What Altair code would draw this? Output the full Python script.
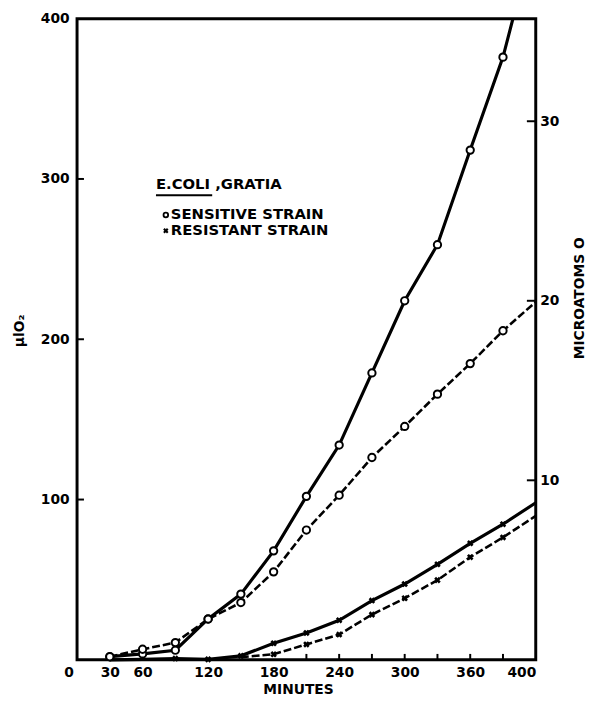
import altair as alt
import pandas as pd

# ---------------- data ----------------
minutes_sens = [30, 60, 90, 120, 150, 180, 210, 240, 270, 300, 330, 360, 390, 420]
sens_ul_o2 = [2, 3.7, 6, 25.5, 41, 68, 102, 134, 179, 224, 259, 318, 376, 455]
sens_microatoms = [0.17, 0.59, 0.96, 2.27, 3.19, 4.9, 7.23, 9.17, 11.27, 13.0, 14.8, 16.5, 18.33, 19.94]

minutes_res = [30, 60, 90, 120, 150, 180, 210, 240, 270, 300, 330, 360, 390, 420]
res_ul_o2 = [0, 0.3, 0.8, 0.3, 2.5, 10.3, 16.8, 24.7, 37, 47.3, 59.6, 72.7, 84.6, 98]

minutes_res_dash = [150, 180, 210, 240, 270, 300, 330, 360, 390, 420]
res_microatoms = [0.15, 0.31, 0.86, 1.41, 2.52, 3.43, 4.44, 5.72, 6.82, 8.02]

xtick_values = [30, 60, 120, 180, 240, 300, 360, 420]
xtick_labels = ["30", "60", "120", "180", "240", "300", "360", "400"]
minor_x_ticks = [210, 240, 270, 300, 330, 360, 390]
left_ticks = [100, 200, 300, 400]
right_ticks = [10, 20, 30]

legend_title = "E.COLI ,GRATIA"
legend_sens = "SENSITIVE STRAIN"
legend_res = "RESISTANT STRAIN"

# ---------------- layout / style ----------------
FONT = "DejaVu Sans"
W, H = 465, 650
XMAX = 420
YMAX = 400
MMAX = 400 / 11.2
MARK_MIN_S, MARK_MAX = 30, 390
MARK_MIN_R, MARK_MIN_RD = 90, 180

df_sens = pd.DataFrame({"minutes": minutes_sens, "ul": sens_ul_o2, "m": sens_microatoms})
df_res = pd.DataFrame({"minutes": minutes_res, "ul": res_ul_o2})
df_res_d = pd.DataFrame({"minutes": minutes_res_dash, "m": res_microatoms})

label_expr = ""
for v, l in zip(xtick_values, xtick_labels):
    label_expr += f"datum.value == {v} ? '{l}' : "
label_expr += "datum.label"

x_axis = alt.Axis(
    values=xtick_values, labelExpr=label_expr, title="MINUTES",
    labelPadding=6, titleX=224, titleY=30, titleAlign="center",
    titleBaseline="middle",
)
xenc = alt.X("minutes:Q", scale=alt.Scale(domain=[0, XMAX], nice=False, zero=False), axis=x_axis)

ul_scale = alt.Scale(domain=[0, YMAX], nice=False)
m_scale = alt.Scale(domain=[0, MMAX], nice=False)

left_axis = alt.Axis(
    values=left_ticks, title="μlO₂", orient="left", labelPadding=8,
    titleX=-58, titleY=316, titleAngle=270, titleAlign="center", titleBaseline="middle",
)
right_axis = alt.Axis(
    values=right_ticks, title="MICROATOMS O", orient="right", labelPadding=4,
    titleX=44, titleY=283, titleAngle=270, titleAlign="center", titleBaseline="middle",
)

sens_line = alt.Chart(df_sens).mark_line(color="black", strokeWidth=3.2, clip=True).encode(
    x=xenc, y=alt.Y("ul:Q", scale=ul_scale, axis=left_axis)
)
sens_dash = alt.Chart(df_sens).mark_line(color="black", strokeWidth=2.6, strokeDash=[8, 3]).encode(
    x=xenc, y=alt.Y("m:Q", scale=m_scale, axis=right_axis)
)
res_line = alt.Chart(df_res).mark_line(color="black", strokeWidth=3.2).encode(
    x=xenc, y=alt.Y("ul:Q", scale=ul_scale, axis=None)
)
res_dash = alt.Chart(df_res_d).mark_line(color="black", strokeWidth=2.6, strokeDash=[8, 3]).encode(
    x=xenc, y=alt.Y("m:Q", scale=m_scale, axis=None)
)

circ = dict(shape="circle", size=55, filled=True, fill="white", stroke="black", strokeWidth=2, opacity=1)
sens_pts = alt.Chart(df_sens).transform_filter(
    f"datum.minutes <= {MARK_MAX}"
).mark_point(**circ).encode(x=xenc, y=alt.Y("ul:Q", scale=ul_scale, axis=None))
sens_pts_d = alt.Chart(df_sens).transform_filter(
    f"datum.minutes <= {MARK_MAX}"
).mark_point(**circ).encode(x=xenc, y=alt.Y("m:Q", scale=m_scale, axis=None))

xm = dict(shape="cross", angle=45, size=45, filled=True, color="black", opacity=1)
res_pts = alt.Chart(df_res).transform_filter(
    f"datum.minutes >= {MARK_MIN_R} && datum.minutes <= {MARK_MAX}"
).mark_point(**xm).encode(x=xenc, y=alt.Y("ul:Q", scale=ul_scale, axis=None))
res_pts_d = alt.Chart(df_res_d).transform_filter(
    f"datum.minutes >= {MARK_MIN_RD} && datum.minutes <= {MARK_MAX}"
).mark_point(**xm).encode(x=xenc, y=alt.Y("m:Q", scale=m_scale, axis=None))

# inward tick marks
bt = alt.Chart(pd.DataFrame({"minutes": minor_x_ticks})).mark_rule(color="black", strokeWidth=2).encode(
    x=xenc, y=alt.value(H - 6), y2=alt.value(H)
)
lt = alt.Chart(pd.DataFrame({"v": left_ticks[:-1]})).mark_rule(color="black", strokeWidth=2).encode(
    y=alt.Y("v:Q", scale=ul_scale, axis=None), x=alt.value(0), x2=alt.value(7)
)
rt = alt.Chart(pd.DataFrame({"v": right_ticks})).mark_rule(color="black", strokeWidth=2).encode(
    y=alt.Y("v:Q", scale=m_scale, axis=None), x=alt.value(W - 9), x2=alt.value(W)
)

one = alt.Data(values=[{"a": 1}])
tstyle = dict(font=FONT, fontWeight="bold", color="black", baseline="middle")
zero_lbl = alt.Chart(one).mark_text(text="0", fontSize=14, align="center", **tstyle).encode(
    x=alt.value(-8), y=alt.value(663)
)
leg_t = alt.Chart(one).mark_text(text=legend_title, fontSize=15, align="left", **tstyle).encode(
    x=alt.value(80), y=alt.value(168)
)
leg_u = alt.Chart(one).mark_rule(color="black", strokeWidth=2).encode(
    x=alt.value(80), x2=alt.value(137), y=alt.value(179)
)
leg_c = alt.Chart(one).mark_point(shape="circle", size=22, filled=True, fill="white", stroke="black",
                                  strokeWidth=1.8, opacity=1).encode(x=alt.value(90), y=alt.value(199))
leg_s = alt.Chart(one).mark_text(text=legend_sens, fontSize=15, align="left", **tstyle).encode(
    x=alt.value(95), y=alt.value(198)
)
leg_x = alt.Chart(one).mark_point(shape="cross", angle=45, size=30, filled=True, color="black",
                                  opacity=1).encode(x=alt.value(90), y=alt.value(215))
leg_r = alt.Chart(one).mark_text(text=legend_res, fontSize=15, align="left", **tstyle).encode(
    x=alt.value(95), y=alt.value(214)
)

chart = alt.layer(
    sens_line, sens_dash, res_line, res_dash,
    sens_pts, sens_pts_d, res_pts, res_pts_d,
    bt, lt, rt, zero_lbl, leg_t, leg_u, leg_c, leg_s, leg_x, leg_r,
).resolve_scale(y="independent").properties(
    width=W, height=H,
    autosize=alt.AutoSizeParams(type="none"),
    padding={"left": 70, "top": 6, "right": 55, "bottom": 43},
    background="white",
).configure_view(
    stroke="black", strokeWidth=3
).configure_axis(
    domain=False, ticks=False, grid=False,
    labelFont=FONT, labelFontWeight="bold", labelFontSize=14, labelColor="black",
    titleFont=FONT, titleFontWeight="bold", titleFontSize=14, titleColor="black",
)

chart.save("out.html", embed_options={"renderer": "svg", "actions": False})
